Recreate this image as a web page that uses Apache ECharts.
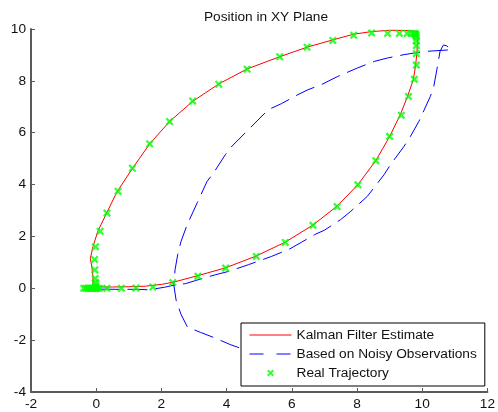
<!DOCTYPE html>
<html>
<head>
<meta charset="utf-8">
<script src="https://cdn.jsdelivr.net/npm/echarts@6/dist/echarts.min.js"></script>
<style>
  html, body { margin: 0; padding: 0; background: #fff; }
  #chart { width: 498px; height: 412px; }
</style>
</head>
<body>
<div id="chart"></div>
<script>
// Real trajectory samples
const realX = [-0.38, -0.32, -0.26, -0.2, -0.14, -0.09, -0.05, -0.02, 0, 0.04, 0.1,
  0.33, 0.77, 1.22, 1.74, 2.35, 3.12, 3.97, 4.91, 5.80, 6.65, 7.39, 8.03, 8.58, 9.00,
  9.36, 9.58, 9.76, 9.82, 9.82, 9.82, 9.82, 9.82, 9.81, 9.80, 9.78, 9.74, 9.66, 9.54,
  9.30, 8.94, 8.45, 7.90, 7.26, 6.47, 5.63, 4.63, 3.76, 2.96, 2.25, 1.64, 1.11, 0.67,
  0.33, 0.12, -0.02, -0.05, -0.04, -0.03, -0.02, -0.01];
const realY = [0, 0, 0, 0, 0, 0, 0, 0, 0, 0, 0,
  0, 0, 0.01, 0.05, 0.22, 0.46, 0.78, 1.23, 1.77, 2.43, 3.15, 3.99, 4.92, 5.86,
  6.67, 7.40, 8.06, 8.61, 9.05, 9.36, 9.55, 9.68, 9.76, 9.80, 9.82, 9.83, 9.83, 9.83,
  9.83, 9.83, 9.85, 9.76, 9.56, 9.30, 8.93, 8.45, 7.87, 7.22, 6.43, 5.57, 4.63, 3.74,
  2.90, 2.20, 1.60, 1.11, 0.71, 0.38, 0.22, 0.10];

// Kalman filter estimate
const kalmanX = [-0.22, -0.2, -0.1, 0.1, 0.5, 1.0, 1.5, 2.0, 2.38, 3.1, 3.97, 4.9, 5.8,
  6.65, 7.4, 8.03, 8.58, 9.0, 9.33, 9.55, 9.73, 9.8, 9.84, 9.85, 9.85, 9.6, 9.0, 8.45,
  7.9, 7.26, 6.47, 5.63, 4.63, 3.76, 2.96, 2.25, 1.64, 1.11, 0.63, 0.32, 0.05, -0.1,
  -0.18, -0.13, -0.1, -0.1];
const kalmanY = [-0.12, 0.0, 0.05, 0.05, 0.05, 0.06, 0.08, 0.15, 0.24, 0.48, 0.79, 1.24,
  1.78, 2.44, 3.18, 4.0, 4.93, 5.85, 6.7, 7.4, 8.05, 8.62, 9.1, 9.5, 9.9, 9.94, 9.95,
  9.9, 9.8, 9.58, 9.3, 8.93, 8.46, 7.88, 7.21, 6.43, 5.57, 4.62, 3.7, 2.9, 2.2, 1.6,
  1.15, 0.8, 0.4, 0.0];

// Positions integrated from the noisy observations
const noisyX = [0.1, 0.6, 1.3, 1.6, 2.1, 2.38, 2.74, 3.05, 3.65, 4.06, 4.67, 5.38, 5.94,
  6.29, 6.7, 7.0, 7.5, 7.81, 8.32, 8.83, 9.03, 9.44, 9.64, 9.9, 10.05, 10.25, 10.35,
  10.45, 10.5, 10.55, 10.65, 10.74, 10.9, 10.15, 9.74, 9.44, 8.93, 8.53, 8.02, 7.41,
  6.9, 6.5, 6.19, 5.68, 5.28, 4.87, 4.67, 4.11, 3.96, 3.6, 3.4, 3.1, 2.79, 2.6, 2.5,
  2.42, 2.38, 2.45, 2.6, 2.8, 3.2, 3.65, 4.11, 4.45];
const noisyY = [-0.03, -0.04, -0.04, -0.06, 0.04, 0.12, 0.18, 0.3, 0.52, 0.65, 0.91, 1.23,
  1.52, 1.77, 2.07, 2.24, 2.65, 2.97, 3.55, 4.38, 4.77, 5.47, 5.86, 6.44, 6.85, 7.4,
  7.75, 8.43, 8.8, 9.15, 9.38, 9.36, 9.2, 9.14, 9.07, 9.01, 8.88, 8.75, 8.5, 8.17,
  7.85, 7.66, 7.47, 7.12, 6.89, 6.37, 6.12, 5.41, 5.15, 4.45, 4.12, 3.3, 2.45, 1.8,
  1.3, 0.72, 0.14, -0.45, -1.0, -1.5, -1.7, -1.92, -2.17, -2.32];

const seriesNames = ['Kalman Filter Estimate', 'Based on Noisy Observations', 'Real Trajectory'];
const chartTitle = 'Position in XY Plane';

const pairs = (xs, ys) => xs.map((x, i) => [x, ys[i]]);

// Bold "x" marker; the two stray move-to points pad its bounding box
const crossMark = 'path://M-5,-5 M15,15 M2,0 L5,3 L8,0 L10,2 L7,5 L10,8 L8,10 L5,7 L2,10 L0,8 L3,5 L0,2 Z';

const font = 'Arial, "Liberation Sans", sans-serif';
const axisGray = '#5a5a5a';

const chart = echarts.init(document.getElementById('chart'), null, { renderer: 'canvas' });
chart.setOption({
  animation: false,
  backgroundColor: '#fff',
  title: {
    text: chartTitle,
    left: 261,
    top: 5,
    textAlign: 'center',
    textStyle: { fontSize: 13.7, fontWeight: 'normal', color: '#111', fontFamily: font }
  },
  grid: { left: 31, right: 7, top: 29, bottom: 20, containLabel: false },
  xAxis: {
    type: 'value', min: -2, max: 12, interval: 2,
    axisLine: { show: true, onZero: false, lineStyle: { color: axisGray, width: 2 } },
    axisTick: { show: true, inside: true, length: 4, lineStyle: { color: axisGray, width: 1 } },
    axisLabel: { margin: 5, fontSize: 13.7, color: '#111', fontFamily: font },
    splitLine: { show: false }
  },
  yAxis: {
    type: 'value', min: -4, max: 10, interval: 2,
    axisLine: { show: true, onZero: false, lineStyle: { color: axisGray, width: 2 } },
    axisTick: { show: true, inside: true, length: 4, lineStyle: { color: axisGray, width: 1 } },
    axisLabel: { margin: 5, fontSize: 13.7, color: '#111', fontFamily: font },
    splitLine: { show: false }
  },
  legend: {
    orient: 'vertical',
    left: 241, top: 323,
    backgroundColor: '#fff',
    borderColor: '#000', borderWidth: 1, borderRadius: 0,
    padding: [5, 8, 6, 8],
    itemWidth: 42, itemHeight: 14, itemGap: 5,
    textStyle: { fontSize: 13.7, color: '#111', fontFamily: font },
    data: [
      { name: seriesNames[0], itemStyle: { opacity: 0 }, lineStyle: { width: 1 } },
      { name: seriesNames[1], itemStyle: { opacity: 0 }, lineStyle: { width: 1, type: [14, 13] } },
      { name: seriesNames[2] }
    ]
  },
  series: [
    {
      name: seriesNames[0], type: 'line', data: pairs(kalmanX, kalmanY),
      symbol: 'none', showSymbol: false,
      lineStyle: { color: '#ff0000', width: 1 }, itemStyle: { color: '#ff0000' }, z: 2
    },
    {
      name: seriesNames[1], type: 'line', data: pairs(noisyX, noisyY),
      symbol: 'none', showSymbol: false,
      lineStyle: { color: '#0000ff', width: 1, type: [20, 8] }, itemStyle: { color: '#0000ff' }, z: 2
    },
    {
      name: seriesNames[2], type: 'scatter', data: pairs(realX, realY),
      symbol: crossMark, symbolSize: 16,
      itemStyle: { color: '#00ff00' }, z: 3
    }
  ]
});
</script>
</body>
</html>
